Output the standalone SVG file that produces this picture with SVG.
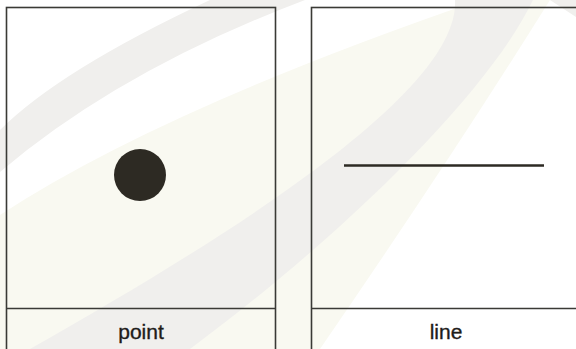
<svg xmlns="http://www.w3.org/2000/svg" width="576" height="349" viewBox="0 0 576 349">
<style>
.panel{fill:none;stroke:#3a3a36;stroke-width:1.6}
.label{font-family:"Liberation Sans",Arial,sans-serif;font-size:21px;fill:#1e1c1a;stroke:#1e1c1a;stroke-width:0.35;text-anchor:middle}
.gray{fill:#f0efed}
.yellow{fill:#f9f9f1}
</style>
<rect width="576" height="349" fill="#ffffff"/>
<g id="watermark">
<path class="yellow" d="M0,215 Q160,110 480,0 L550,0 Q450,160 320,349 L0,349 Z"/>
<path class="gray" d="M0,130 Q60,70 210,0 L305,0 Q120,70 0,172 Z"/>
<path class="gray" d="M455,0 L533,0 C490,90 350,230 190,349 L30,349 C240,230 460,90 455,0 Z"/>
<path class="gray" d="M550,0 L576,0 L576,17 Z"/>
</g>
<g id="point-panel">
<rect class="panel" x="6.5" y="7.5" width="269" height="400"/>
<line class="panel" x1="6.5" y1="308.5" x2="275.5" y2="308.5"/>
<circle cx="140" cy="175" r="26" fill="#2d2a23"/>
<text class="label" x="141" y="338.5">point</text>
</g>
<g id="line-panel">
<rect class="panel" x="311.5" y="7.5" width="270" height="400"/>
<line class="panel" x1="311.5" y1="308.5" x2="581.5" y2="308.5"/>
<line x1="344" y1="165.5" x2="544" y2="165.5" stroke="#2d2a23" stroke-width="2.5"/>
<text class="label" x="446" y="339">line</text>
</g>
<g id="connectors"/>
</svg>
